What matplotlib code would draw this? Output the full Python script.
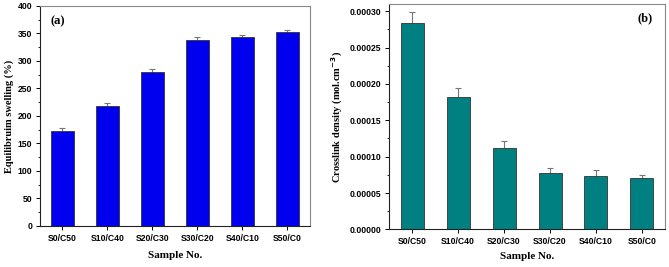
import matplotlib
matplotlib.use("Agg")
import matplotlib.pyplot as plt
from matplotlib.ticker import MultipleLocator, FormatStrFormatter

samples = ["S0/C50", "S10/C40", "S20/C30", "S30/C20", "S40/C10", "S50/C0"]
swelling = [172, 218, 280, 338, 343, 352]
swelling_err = [7, 6, 6, 6, 5, 5]
crosslink = [0.000284, 0.000182, 0.000112, 0.000077, 0.000074, 0.000070]
crosslink_err = [0.000015, 0.000012, 0.000010, 0.000007, 0.000007, 0.000005]

serif = "Liberation Serif"
sans = "Liberation Sans"

fig = plt.figure(figsize=(6.69, 2.67), dpi=100)
ax1 = fig.add_axes([0.0598, 0.1536, 0.4032, 0.824])
ax2 = fig.add_axes([0.5815, 0.141, 0.4125, 0.844])

x = range(len(samples))


def style(ax, pad):
    for s in ["top", "right"]:
        ax.spines[s].set_color("#888888")
    for s in ["left", "bottom"]:
        ax.spines[s].set_color("#222222")
    for s in ax.spines.values():
        s.set_linewidth(0.8)
    ax.tick_params(axis="both", which="major", direction="out", length=3, width=0.7,
                   labelsize=6.2, pad=2.5)
    ax.tick_params(axis="y", which="minor", direction="out", length=1.8, width=0.6)
    ax.tick_params(axis="x", which="minor", bottom=False)
    ax.set_xticks(list(x))
    ax.set_xticklabels(samples)
    for lab in ax.get_xticklabels() + ax.get_yticklabels():
        lab.set_fontfamily(sans)
        lab.set_fontweight("bold")
    ax.set_xlim(-0.5, 5.5)
    ax.set_xlabel("Sample No.", fontfamily=serif, fontweight="bold", fontsize=8, labelpad=pad)


# (a) equilibrium swelling
ax1.errorbar(x, swelling, yerr=swelling_err, fmt="none", ecolor="#777777",
             elinewidth=0.8, capsize=2.5, capthick=0.8, zorder=1)
ax1.bar(x, swelling, width=0.5, color="#0000EE", edgecolor="#333333", linewidth=0.6, zorder=2)
ax1.set_ylim(0, 400)
ax1.yaxis.set_major_locator(MultipleLocator(50))
ax1.yaxis.set_minor_locator(MultipleLocator(25))
style(ax1, 6)
ax1.set_ylabel("Equilibruim swelling (%)", fontfamily=serif, fontweight="bold", fontsize=7.5, labelpad=3)
ax1.text(0.04, 0.93, "(a)", transform=ax1.transAxes, fontfamily=serif,
         fontweight="bold", fontsize=9, va="center")

# (b) crosslink density
ax2.errorbar(x, crosslink, yerr=crosslink_err, fmt="none", ecolor="#777777",
             elinewidth=0.8, capsize=2.5, capthick=0.8, zorder=1)
ax2.bar(x, crosslink, width=0.5, color="#008080", edgecolor="#333333", linewidth=0.6, zorder=2)
ax2.set_ylim(0, 0.00031)
ax2.yaxis.set_major_locator(MultipleLocator(0.00005))
ax2.yaxis.set_minor_locator(MultipleLocator(0.000025))
ax2.yaxis.set_major_formatter(FormatStrFormatter("%.5f"))
style(ax2, 4.5)
ax2.set_ylabel("Crosslink density (mol.cm$^{\\mathbf{-3}}$)", fontfamily=serif,
               fontweight="bold", fontsize=7.5, labelpad=3)
ax2.text(0.955, 0.935, "(b)", transform=ax2.transAxes, fontfamily=serif,
         fontweight="bold", fontsize=9, va="center", ha="right")

fig.savefig("out.png", dpi=100)
